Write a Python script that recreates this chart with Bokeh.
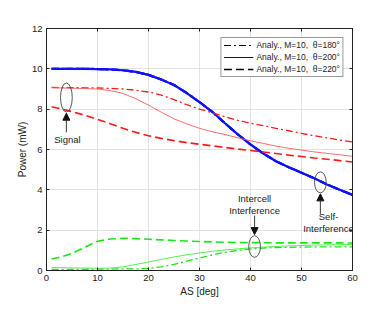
from bokeh.plotting import figure
from bokeh.models import (Range1d, FixedTicker, LinearAxis, Legend, LegendItem,
                          Arrow, NormalHead, ColumnDataSource)
from bokeh.core.properties import value
from bokeh.embed import file_html
from bokeh.resources import INLINE

# ---------------- data ----------------
AS = [1, 3, 5, 7.5, 10, 12.5, 15, 17.5, 20, 22.5, 25, 27.5, 30, 32.5, 35,
      37.5, 40, 42.5, 45, 47.5, 50, 52.5, 55, 57.5, 60]

self_interf = [10.0, 10.0, 10.0, 10.0, 9.99, 9.97, 9.93, 9.85, 9.7, 9.47, 9.2,
               8.8, 8.35, 7.87, 7.3, 6.75, 6.25, 5.8, 5.42, 5.12, 4.85, 4.57,
               4.27, 4.0, 3.75]

signal_180 = [9.08, 9.07, 9.07, 9.06, 9.05, 9.03, 9.0, 8.94, 8.85, 8.7, 8.47,
              8.22, 8.0, 7.83, 7.62, 7.45, 7.3, 7.18, 7.05, 6.93, 6.8, 6.68,
              6.58, 6.47, 6.37]
signal_200 = [9.06, 9.05, 9.04, 9.02, 9.0, 8.92, 8.78, 8.52, 8.2, 7.85, 7.52,
              7.27, 7.05, 6.88, 6.74, 6.58, 6.43, 6.3, 6.17, 6.06, 5.97, 5.88,
              5.81, 5.74, 5.66]
signal_220 = [8.12, 8.0, 7.88, 7.7, 7.5, 7.28, 7.05, 6.85, 6.68, 6.55, 6.44,
              6.34, 6.26, 6.18, 6.1, 6.02, 5.95, 5.88, 5.8, 5.72, 5.65, 5.58,
              5.52, 5.45, 5.38]

inter_180 = [0.05, 0.05, 0.06, 0.06, 0.07, 0.07, 0.08, 0.08, 0.1, 0.18, 0.3,
             0.46, 0.62, 0.77, 0.9, 1.0, 1.07, 1.11, 1.14, 1.15, 1.16, 1.17,
             1.17, 1.17, 1.17]
inter_200 = [0.15, 0.14, 0.13, 0.12, 0.11, 0.12, 0.18, 0.3, 0.42, 0.55, 0.67,
             0.78, 0.87, 0.95, 1.02, 1.07, 1.12, 1.16, 1.19, 1.22, 1.24, 1.26,
             1.27, 1.28, 1.29]
inter_220 = [0.57, 0.68, 0.85, 1.15, 1.45, 1.56, 1.6, 1.58, 1.55, 1.52, 1.49,
             1.46, 1.44, 1.42, 1.4, 1.39, 1.38, 1.38, 1.37, 1.37, 1.37, 1.37,
             1.37, 1.37, 1.36]

x_ticks = [0, 10, 20, 30, 40, 50, 60]
y_ticks = [0, 2, 4, 6, 8, 10, 12]

legend_labels = ["Analy., M=10,  \u03b8=180\u00b0",
                 "Analy., M=10,  \u03b8=200\u00b0",
                 "Analy., M=10,  \u03b8=220\u00b0"]

# annotations (data coordinates)
ell_x = [3.9, 40.8, 53.7]
ell_y = [8.58, 1.19, 4.37]
ell_w = [2.3, 2.3, 2.3]
ell_h = [1.44, 1.07, 1.04]

arr_x0 = [3.9, 40.8, 53.7]
arr_y0 = [6.85, 2.72, 2.8]
arr_x1 = [3.9, 40.8, 53.7]
arr_y1 = [7.8, 1.78, 3.8]

txt_x = [4.1, 40.8, 40.8, 55.3, 55.3]
txt_y = [6.52, 3.55, 2.97, 2.67, 2.1]
txt_s = ["Signal", "Intercell", "Interference", "Self-", "Interference"]

FONT = "Liberation Sans"
DASHDOT = "7 3 2 3"
DASHED = "8 4"
NAN = float("nan")

p = figure(width=366, height=305, output_backend="svg", toolbar_location=None,
           x_range=Range1d(0, 60), y_range=Range1d(0, 12),
           min_border_left=46, min_border_top=28, min_border_right=14,
           min_border_bottom=35)
p.background_fill_color = "white"
p.outline_line_color = "#222222"
p.outline_line_width = 0.8

for ax in (p.xaxis[0], p.yaxis[0]):
    ax.major_tick_in = 3
    ax.major_tick_out = 0
    ax.minor_tick_line_color = None
    ax.axis_line_color = "#222222"
    ax.major_tick_line_color = "#222222"
    ax.major_label_text_font = FONT
    ax.major_label_text_font_size = "9.5px"
    ax.major_label_text_color = "#222222"
    ax.axis_label_text_font = FONT
    ax.axis_label_text_font_size = "10px"
    ax.axis_label_text_font_style = "normal"
    ax.axis_label_text_color = "#222222"
p.xaxis.ticker = FixedTicker(ticks=x_ticks)
p.yaxis.ticker = FixedTicker(ticks=y_ticks)
p.xaxis.axis_label = "AS [deg]"
p.yaxis.axis_label = "Power (mW)"
p.xaxis.major_label_standoff = 4
p.xaxis.axis_label_standoff = 2
p.yaxis.major_label_standoff = 4
p.yaxis.axis_label_standoff = 1

for loc, tk in (("above", x_ticks), ("right", y_ticks)):
    a = LinearAxis(ticker=FixedTicker(ticks=tk), major_tick_in=3, major_tick_out=0,
                   minor_tick_line_color=None, major_label_text_font_size="5px",
                   major_label_text_color=None,
                   axis_line_color="#222222", major_tick_line_color="#222222",
                   major_label_standoff=0)
    p.add_layout(a, loc)

p.xgrid.ticker = FixedTicker(ticks=x_ticks)
p.ygrid.ticker = FixedTicker(ticks=y_ticks)
p.grid.grid_line_color = "#e3e3e3"
p.grid.grid_line_width = 1

# curves
BLUE = "#1010ff"
for dash in (DASHED, "solid", DASHDOT):
    p.line(AS, self_interf, line_color=BLUE, line_width=2.2, line_dash=dash)

p.line(AS, signal_180, line_color="#ff1a1a", line_width=1.3, line_dash=DASHDOT)
p.line(AS, signal_200, line_color="#ff5a5a", line_width=0.9)
p.line(AS, signal_220, line_color="#ff1a1a", line_width=1.6, line_dash=DASHED)

p.line(AS, inter_180, line_color="#19e619", line_width=1.3, line_dash=DASHDOT)
p.line(AS, inter_200, line_color="#40ee40", line_width=0.9)
p.line(AS, inter_220, line_color="#19e619", line_width=1.6, line_dash=DASHED)

# annotations
p.ellipse(x=ell_x, y=ell_y, width=ell_w, height=ell_h, fill_alpha=0,
          line_color="#444444", line_width=0.9)
arr_src = ColumnDataSource(dict(x0=arr_x0, y0=arr_y0, x1=arr_x1, y1=arr_y1))
p.add_layout(Arrow(source=arr_src, x_start="x0", y_start="y0", x_end="x1", y_end="y1",
                   line_color="#222222", line_width=0.9,
                   end=NormalHead(size=7, fill_color="#111111", line_color="#111111")))
p.text(x=txt_x, y=txt_y, text=txt_s, text_align="center", text_baseline="middle",
       text_font=value(FONT), text_font_size="9.5px", text_color="#222222")

# legend (black samples)
lr = [p.line([NAN, NAN], [NAN, NAN], line_color="black", line_width=1.2, line_dash=DASHDOT),
      p.line([NAN, NAN], [NAN, NAN], line_color="black", line_width=0.9),
      p.line([NAN, NAN], [NAN, NAN], line_color="black", line_width=1.5, line_dash=DASHED)]
legend = Legend(items=[LegendItem(label=l, renderers=[r]) for l, r in zip(legend_labels, lr)],
                location="top_right", label_text_font=FONT, label_text_font_size="8.5px",
                label_text_color="#222222",
                glyph_width=30, glyph_height=10, label_height=10, label_standoff=3,
                spacing=2, padding=2, margin=9,
                border_line_color="#333333", border_line_width=0.8,
                background_fill_color="white", background_fill_alpha=1)
p.add_layout(legend, "center")

open("out.html", "w").write(file_html(p, INLINE))
